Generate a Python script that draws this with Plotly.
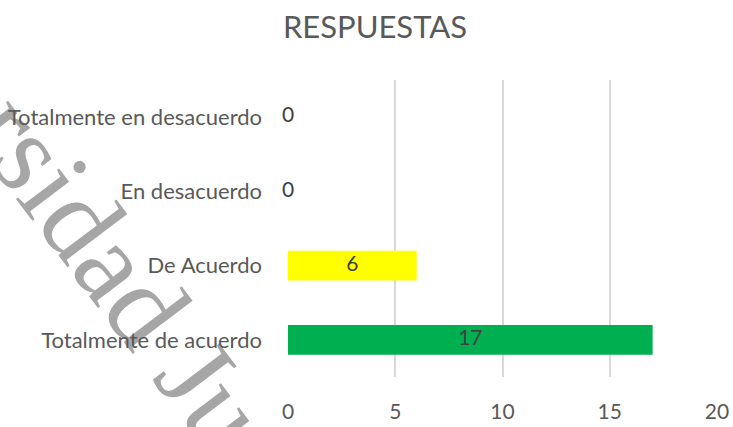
import plotly.graph_objects as go

# data (bottom to top)
categories = ["Totalmente de acuerdo", "De Acuerdo", "En desacuerdo", "Totalmente en desacuerdo"]
counts = [17, 6, 0, 0]
bar_colors = ["#00b050", "#ffff00", "#ffff00", "#ffff00"]
x_ticks = [0, 5, 10, 15, 20]

FONT = "Lato"
PLOT_L, PLOT_R, PLOT_T, PLOT_B = 288, 717, 80, 377

fig = go.Figure()

fig.add_trace(go.Bar(
    y=categories,
    x=counts,
    orientation="h",
    marker=dict(color=bar_colors, line=dict(width=0)),
    width=0.4,
    hoverinfo="skip",
    showlegend=False,
))

# data labels centred in each bar (Excel "center" labels)
fig.add_trace(go.Scatter(
    y=categories,
    x=[v / 2 for v in counts],
    mode="text",
    text=[str(v) for v in counts],
    textfont=dict(family=FONT, size=21, color="#404040"),
    cliponaxis=False,
    hoverinfo="skip",
    showlegend=False,
))


def to_paper(px, py):
    return (px - PLOT_L) / (PLOT_R - PLOT_L), (PLOT_B - py) / (PLOT_B - PLOT_T)


# document watermark running diagonally across the left side,
# drawn as a shape label on the lowest layer so the axis text stays on top
wm_x0, wm_y0 = to_paper(44, 153)
wm_x1, wm_y1 = to_paper(46, 151)
fig.add_shape(
    type="rect",
    xref="paper", yref="paper",
    x0=wm_x0, y0=wm_y0, x1=wm_x1, y1=wm_y1,
    line=dict(width=0),
    fillcolor="rgba(0,0,0,0)",
    layer="below",
    label=dict(
        text="Universidad Ju",
        textangle=53,
        textposition="middle center",
        font=dict(family="Liberation Serif", size=115, color="#a6a6a6"),
    ),
)

fig.update_layout(
    width=733,
    height=427,
    margin=dict(l=PLOT_L, r=733 - PLOT_R, t=PLOT_T, b=427 - PLOT_B, autoexpand=False),
    paper_bgcolor="white",
    plot_bgcolor="white",
    title=dict(
        text="RESPUESTAS",
        x=375 / 733, xanchor="center",
        y=1 - 27 / 427, yanchor="middle",
        font=dict(family=FONT, size=31, color="#595959"),
    ),
    xaxis=dict(
        range=[0, 20],
        tickvals=x_ticks,
        showgrid=True,
        gridcolor="#d9d9d9",
        gridwidth=1.5,
        zeroline=False,
        showline=False,
        ticks="",
        automargin=False,
        ticklabelstandoff=20,
        tickfont=dict(family=FONT, size=21, color="#595959"),
        fixedrange=True,
    ),
    yaxis=dict(
        showgrid=False,
        zeroline=False,
        showline=False,
        ticks="",
        automargin=False,
        ticklabelstandoff=25,
        tickfont=dict(family=FONT, size=22, color="#595959"),
        fixedrange=True,
    ),
)

# drop the browser's default body margin so the chart sits at the page corner
fig.write_html(
    "out.html",
    config={"displayModeBar": False},
    post_script="document.body.style.margin = '0';",
)
